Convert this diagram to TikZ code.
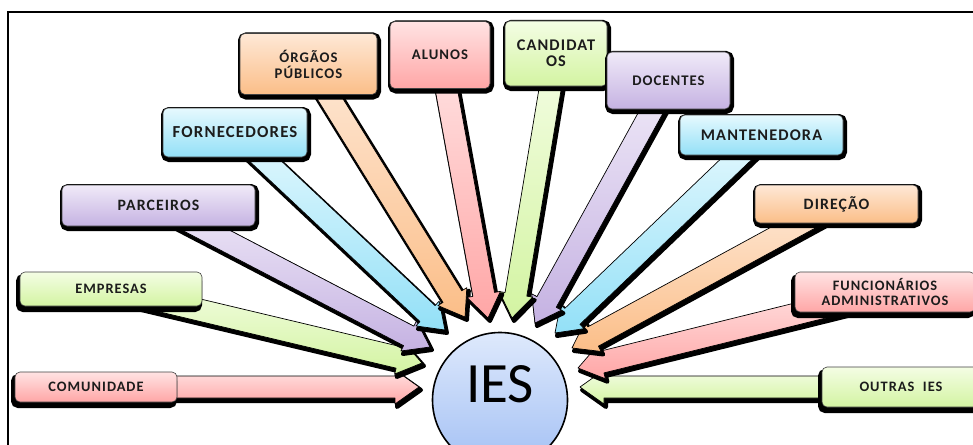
\documentclass[tikz,border=0pt]{standalone}
\usepackage{fontspec}
\setmainfont{Carlito}
\newfontfamily\lblfont[LetterSpace=7]{Carlito}
\usetikzlibrary{calc}
\pgfdeclarelayer{back}
\pgfsetlayers{back,main}
\definecolor{pinkT}{HTML}{FFE3E3}\definecolor{pinkB}{HTML}{FFA6A6}
\definecolor{greenT}{HTML}{F4FDE4}\definecolor{greenB}{HTML}{D3F4A2}
\definecolor{purpleT}{HTML}{F0EAF8}\definecolor{purpleB}{HTML}{C5B2E2}
\definecolor{cyanT}{HTML}{E6F9FE}\definecolor{cyanB}{HTML}{93E0F7}
\definecolor{orangeT}{HTML}{FEE8D6}\definecolor{orangeB}{HTML}{FBBE88}
\definecolor{blueT}{HTML}{DEE9FC}\definecolor{blueB}{HTML}{A3C0F4}
\definecolor{txt}{HTML}{1C1C1C}
\newcommand\lblsize[2]{\fontsize{#1pt}{#2pt}\selectfont}
\newcommand\blkarrow[3]{%
  \coordinate (#2h) at ($(#2)!24pt!(#1)$);
  \path[arrowbody=#3] ($(#1)!11pt!90:(#2)$) -- ($(#2h)!11pt!90:(#2)$) -- ($(#2h)!17pt!90:(#2)$) -- (#2)
     -- ($(#2h)!17pt!-90:(#2)$) -- ($(#2h)!11pt!-90:(#2)$) -- ($(#1)!11pt!-90:(#2)$) -- cycle;
}
\tikzset{
  box/.style={rounded corners=5pt, draw=black!75, line width=0.6pt, inner sep=0pt,
    align=center, text=txt, top color=#1T, bottom color=#1B},
  hishadow/.style={preaction={fill=black, draw=black, line width=6pt,
    transform canvas={xshift=1pt, yshift=-2pt}}},
  loshadow/.style={preaction={fill=black, draw=black, line width=4pt,
    transform canvas={xshift=-2pt, yshift=-4pt}}},
  arrowbody/.style={draw=black, line width=0.7pt, line join=round,
    preaction={fill=black, draw=black, line width=4pt, line join=round,
      transform canvas={xshift=2pt, yshift=-3pt}},
    top color=#1T, bottom color=#1B},
  hifont/.style={font={\lblfont\bfseries\lblsize{#1}{16}}},
  lofont/.style={font={\lblfont\bfseries\lblsize{14.4}{15.5}}}
}
\begin{document}
\begin{tikzpicture}[x=1pt, y=-1pt]
\useasboundingbox (0,0) rectangle (973,444);
\clip (0,0) rectangle (973,444);

% central node
\node[circle, minimum size=135pt, draw=black, line width=1.6pt, top color=blueT, bottom color=blueB,
  text=black, font={\fontsize{57pt}{57pt}\selectfont}, text height=40pt, text depth=35pt] (ies) at (500,400) {IES};

% boxes
\node[box=pink, loshadow, lofont, minimum width=162pt, minimum height=30pt] (com) at (96,387) {COMUNIDADE};
\node[box=green, loshadow, lofont, minimum width=182pt, minimum height=34pt] (emp) at (111,289) {EMPRESAS};
\node[box=purple, hishadow, hifont=15.8, minimum width=193pt, minimum height=41pt] (par) at (158.5,205.5) {PARCEIROS};
\node[box=cyan, hishadow, hifont=16.8, minimum width=144pt, minimum height=49pt] (for) at (235,132.5) {FORNECEDORES};
\node[box=orange, hishadow, hifont=14.7, minimum width=137pt, minimum height=61pt] (org) at (308.5,64) {ÓRGÃOS\\PÚBLICOS};
\node[box=pink, hishadow, hifont=14.7, minimum width=100pt, minimum height=67pt] (alu) at (440,55) {ALUNOS};
\node[box=green, hishadow, hifont=16.3, minimum width=102pt, minimum height=65pt] (can) at (556,53.5) {\lblsize{16.3}{17}CANDIDAT\\OS};
\node[box=purple, hishadow, hifont=14.7, minimum width=123pt, minimum height=57pt] (doc) at (668.5,80.5) {DOCENTES};
\node[box=cyan, hishadow, hifont=16.3, minimum width=163pt, minimum height=40pt] (man) at (761.5,135) {MANTENEDORA};
\node[box=orange, hishadow, hifont=15.8, minimum width=163pt, minimum height=38pt] (dir) at (836.5,204) {DIREÇÃO};
\node[box=pink, loshadow, lofont, minimum width=180pt, minimum height=40pt] (fun) at (885,292) {FUNCIONÁRIOS\\ADMINISTRATIVOS};
\node[box=green, loshadow, lofont, minimum width=158pt, minimum height=40pt] (out) at (901,387) {OUTRAS\ \ IES};

% arrow tips
\coordinate (tcom) at (419,387);
\coordinate (temp) at (422,363);
\coordinate (tpar) at (430,347);
\coordinate (tfor) at (445,330);
\coordinate (torg) at (465,317);
\coordinate (talu) at (488,318);
\coordinate (tcan) at (512,318);
\coordinate (tdoc) at (535,323);
\coordinate (tman) at (555,333);
\coordinate (tdir) at (572,348);
\coordinate (tfun) at (578,368);
\coordinate (tout) at (580,387);

\begin{pgfonlayer}{back}
  \draw[line width=1.8pt] (8,470) -- (8,12) -- (1000,12);
  \blkarrow{com}{tcom}{pink}
  \blkarrow{emp}{temp}{green}
  \blkarrow{par}{tpar}{purple}
  \blkarrow{for}{tfor}{cyan}
  \blkarrow{org}{torg}{orange}
  \blkarrow{out}{tout}{green}
  \blkarrow{fun}{tfun}{pink}
  \blkarrow{dir}{tdir}{orange}
  \blkarrow{man}{tman}{cyan}
  \blkarrow{doc}{tdoc}{purple}
  \blkarrow{can}{tcan}{green}
  \blkarrow{alu}{talu}{pink}
\end{pgfonlayer}
\end{tikzpicture}
\end{document}
